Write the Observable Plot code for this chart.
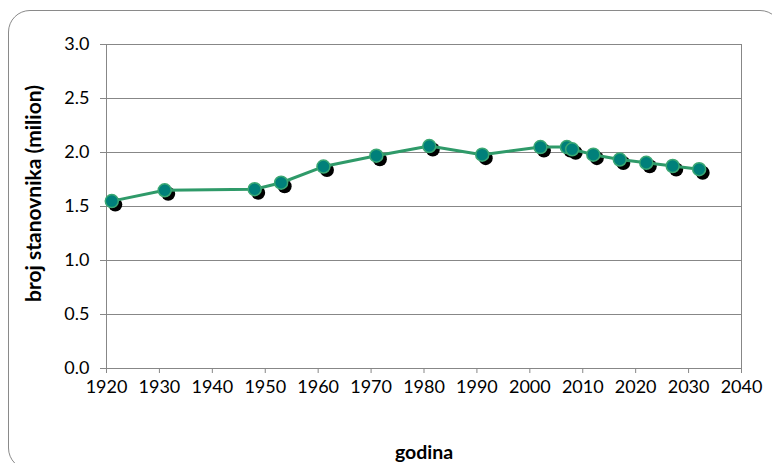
<!DOCTYPE html>
<html>
<head>
<meta charset="utf-8">
<script src="https://cdn.jsdelivr.net/npm/d3@7"></script>
<script src="https://cdn.jsdelivr.net/npm/@observablehq/plot@0.6"></script>
<style>
  html, body { margin: 0; padding: 0; background: #fff; overflow: hidden; }
  #wrap { position: relative; width: 772px; height: 463px; overflow: hidden; }
  #border { position: absolute; left: 8px; top: 10px; width: 774px; height: 460px;
            border: 1.5px solid #8a8a8a; border-radius: 22px; box-sizing: border-box; }
  #chart { position: absolute; left: 0; top: 0; }
</style>
</head>
<body>
<div id="wrap"><div id="border"></div><div id="chart"></div></div>
<script>
const years = [1921, 1931, 1948, 1953, 1961, 1971, 1981, 1991, 2002, 2007, 2008, 2012, 2017, 2022, 2027, 2032];
const population = [1.55, 1.65, 1.66, 1.72, 1.87, 1.97, 2.06, 1.98, 2.05, 2.05, 2.03, 1.98, 1.935, 1.905, 1.875, 1.845];
const xTicks = [1920, 1930, 1940, 1950, 1960, 1970, 1980, 1990, 2000, 2010, 2020, 2030, 2040];
const yTicks = [0, 0.5, 1.0, 1.5, 2.0, 2.5, 3.0];
const xTitle = "godina";
const yTitle = "broj stanovnika (milion)";

const data = years.map((y, i) => ({year: y, value: population[i]}));

const chart = Plot.plot({
  width: 772,
  height: 463,
  marginLeft: 106,
  marginRight: 31,
  marginTop: 44,
  marginBottom: 95,
  style: {fontFamily: "Lato, sans-serif", background: "transparent", overflow: "visible"},
  x: {domain: [1920, 2040]},
  y: {domain: [0, 3]},
  marks: [
    Plot.gridY(yTicks, {stroke: "#878787", strokeOpacity: 1, strokeWidth: 1}),
    Plot.frame({stroke: "#878787", strokeWidth: 1}),
    Plot.axisX({ticks: xTicks, tickFormat: "d", tickSize: 5, tickPadding: 7, fontSize: 18,
                stroke: "#878787", fill: "#000", label: null}),
    Plot.axisY({ticks: yTicks, tickFormat: d => d.toFixed(1), tickSize: 6, tickPadding: 11, fontSize: 18,
                stroke: "#878787", fill: "#000", label: null}),
    Plot.dot(data, {x: "year", y: "value", r: 7, dx: 3.5, dy: 3.5, fill: "#000", stroke: "none"}),
    Plot.line(data, {x: "year", y: "value", stroke: "#2f9a69", strokeWidth: 3}),
    Plot.dot(data, {x: "year", y: "value", r: 6.5, fill: "#00807a", stroke: "#3aa773", strokeWidth: 1.5}),
    Plot.text([xTitle], {frameAnchor: "bottom", dy: 90, fontSize: 19.5, fontWeight: "bold", fill: "#000"}),
    Plot.text([yTitle], {frameAnchor: "left", rotate: -90, dx: -72, dy: -13, textAnchor: "middle",
                         fontSize: 21, fontWeight: "bold", fill: "#000"})
  ]
});
document.getElementById("chart").appendChild(chart);
</script>
</body>
</html>
